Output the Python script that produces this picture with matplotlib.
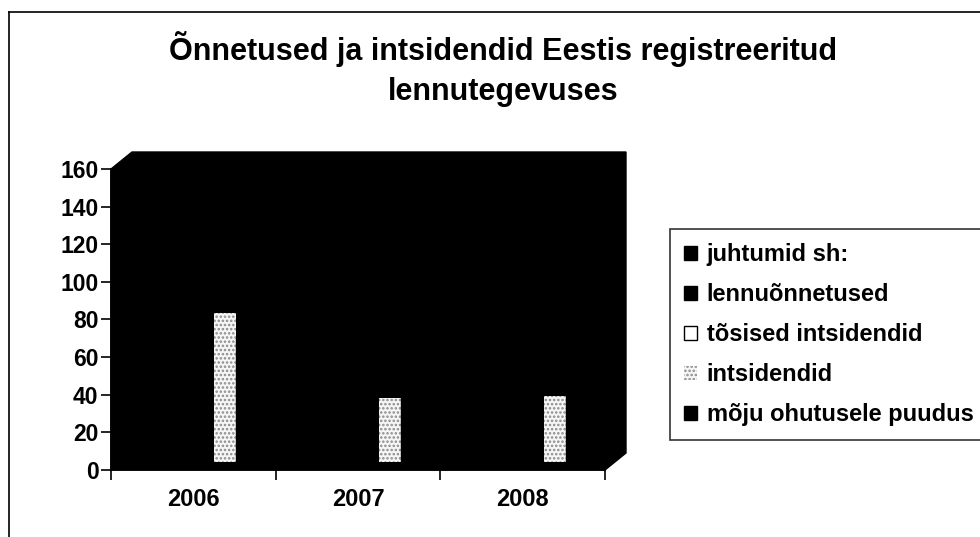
import matplotlib
matplotlib.use("Agg")
import matplotlib.pyplot as plt
from matplotlib.patches import Polygon, Patch
from matplotlib.lines import Line2D
from matplotlib.transforms import ScaledTranslation

plt.rcParams["font.family"] = ["Liberation Sans", "DejaVu Sans"]
plt.rcParams["font.weight"] = "bold"
plt.rcParams["hatch.linewidth"] = 1.2

title = "Õnnetused ja intsidendid Eestis registreeritud\nlennutegevuses"
years = ["2006", "2007", "2008"]
series_names = ["juhtumid sh:", "lennuõnnetused", "tõsised intsidendid",
                "intsidendid", "mõju ohutusele puudus"]
# black bars are black on black in the source, their heights are guesses
juhtumid = [148, 118, 139]
lennuonnetused = [3, 2, 4]
tosised = [0, 0, 0]
intsidendid = [79, 34, 35]
moju_puudub = [66, 82, 100]
values = [juhtumid, lennuonnetused, tosised, intsidendid, moju_puudub]

W, H, DPI = 980, 537, 100
fig = plt.figure(figsize=(W / DPI, H / DPI), dpi=DPI)
fig.patch.set_facecolor("white")

# plot frame in pixels: left 111, right 605, top 169, bottom 470
ax = fig.add_axes([111 / W, 1 - 470 / H, 494 / W, 301 / H])
ax.patch.set_visible(False)
ax.set_xlim(0, 3)
ax.set_ylim(0, 160)

# 3d look: black walls pushed back by a depth offset
dxa, dya = 21 / 494, 17 / 301
wall = Polygon([(0, 0), (0, 1), (dxa, 1 + dya), (1 + dxa, 1 + dya),
                (1 + dxa, dya), (1, 0)], closed=True, transform=ax.transAxes,
               facecolor="black", edgecolor="black", clip_on=False, zorder=0)
ax.add_patch(wall)

styles = [
    dict(facecolor="black", edgecolor="black"),
    dict(facecolor="black", edgecolor="black"),
    dict(facecolor="white", edgecolor="black"),
    dict(facecolor="#f6f6f6", edgecolor="#8a8a8a", hatch="....", linewidth=0),
    dict(facecolor="black", edgecolor="black"),
]

bar_w = 0.134
gap = 0.165
shift = ax.transData + ScaledTranslation(10 / DPI, 8 / DPI, fig.dpi_scale_trans)
for j, (vals, st) in enumerate(zip(values, styles)):
    xs = [i + gap + j * bar_w + bar_w / 2 for i in range(len(years))]
    ax.bar(xs, vals, width=bar_w, transform=shift, clip_on=False, zorder=2, **st)

ax.spines["top"].set_visible(False)
ax.spines["right"].set_visible(False)
for s in ("left", "bottom"):
    ax.spines[s].set_color("black")
    ax.spines[s].set_linewidth(1.2)
    ax.spines[s].set_zorder(3)

ax.set_yticks(range(0, 161, 20))
ax.tick_params(axis="y", length=7, width=1.2, pad=2, labelsize=16.5)
ax.set_xticks([0, 1, 2, 3])
ax.set_xticklabels([])
ax.tick_params(axis="x", which="major", length=7, width=1.2)
ax.set_xticks([0.5, 1.5, 2.5], minor=True)
ax.set_xticklabels(years, minor=True)
ax.tick_params(axis="x", which="minor", length=0, pad=13, labelsize=17)

fig.text(503 / W, 1 - 69 / H, title, ha="center", va="center",
         fontsize=22, fontweight="bold", linespacing=1.45)

handles = [Patch(**st) for st in styles]
leg = fig.legend(handles, series_names, loc="upper left",
                 bbox_to_anchor=(670 / W, 1 - 229 / H), fontsize=17,
                 frameon=True, fancybox=False, edgecolor="black",
                 handlelength=0.55, handleheight=0.55, handletextpad=0.4,
                 labelspacing=0.72, borderpad=0.6, borderaxespad=0)
leg.get_frame().set_linewidth(1.2)

# outer chart border
fig.add_artist(Line2D([9 / W, 1], [1 - 12 / H, 1 - 12 / H], color="black", lw=1.2))
fig.add_artist(Line2D([9 / W, 9 / W], [0, 1 - 12 / H], color="black", lw=1.2))

fig.savefig("out.png", dpi=DPI)
